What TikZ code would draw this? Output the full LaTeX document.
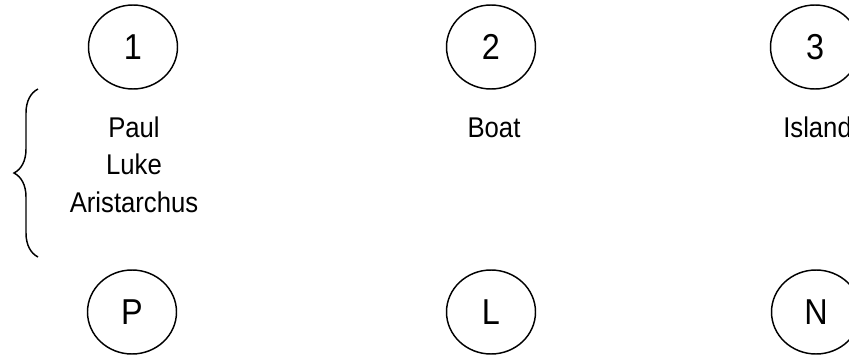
\documentclass[tikz,border=0pt]{standalone}
\usepackage{fontspec}
\setmainfont[FakeStretch=0.9]{Liberation Sans}
\usepackage{tikz}
\usetikzlibrary{shapes.geometric,decorations.pathreplacing}

\begin{document}
\begin{tikzpicture}[
  x=0.75pt, y=-0.75pt,
  ring/.style={draw, ellipse, line width=1.1pt, inner sep=0pt,
               minimum width=66.75pt, minimum height=63pt,
               font=\fontsize{27}{32}\selectfont},
  lbl/.style={anchor=base, inner sep=0pt, align=center,
              font=\fontsize{21.4}{28.1}\selectfont},
  grp/.style={decorate, decoration={brace, amplitude=18pt}, line width=1.1pt}
]
\useasboundingbox (0,0) rectangle (849,357);
\node[ring] (one) at (133,47) {1};
\node[ring] (two) at (491,47) {2};
\node[ring] (three) at (815,47) {3};
% last line sits on the base anchor
\node[lbl] (crew) at (134,212) {Paul\\Luke\\Aristarchus};
\node[lbl] (boat) at (494,137) {Boat};
\node[lbl, anchor=base west] (island) at (783,137) {Island};
\node[ring] (p) at (132,312) {P};
\node[ring] (l) at (491,312) {L};
\node[ring] (n) at (816,312) {N};
\coordinate (bracelow) at (38,257);
\coordinate (bracehigh) at (38,89);
\draw[grp] (bracelow) -- (bracehigh);
\end{tikzpicture}
\end{document}
